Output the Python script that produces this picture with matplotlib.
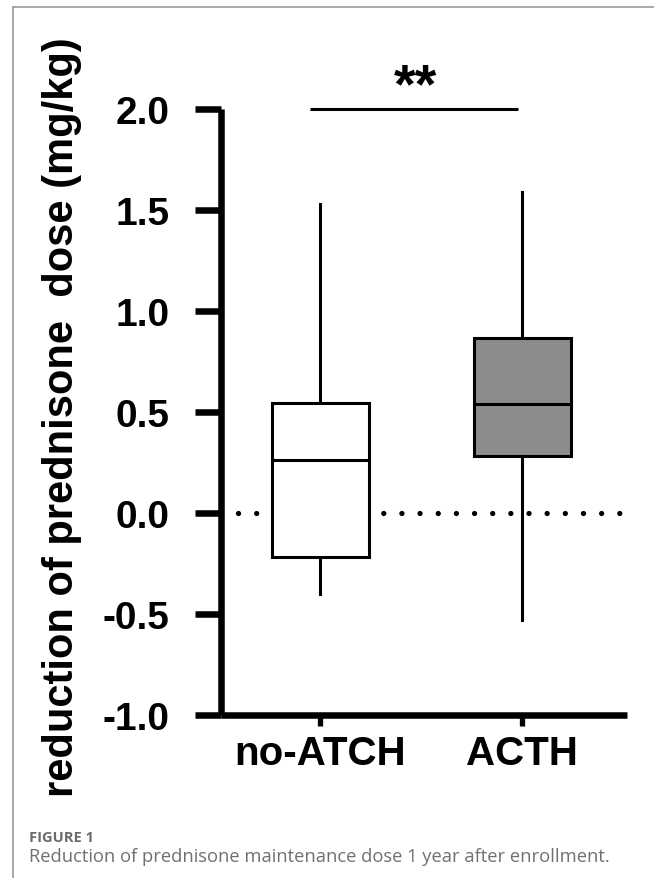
import matplotlib
matplotlib.use("Agg")
from matplotlib import pyplot as plt
from matplotlib.lines import Line2D

# box summary values (mg/kg)
groups = ["no-ATCH", "ACTH"]
whislo = [-0.40, -0.53]
q1 = [-0.22, 0.28]
med = [0.26, 0.54]
q3 = [0.545, 0.865]
whishi = [1.53, 1.59]
fills = ["white", "#8c8c8c"]

yticks = [-1.0, -0.5, 0.0, 0.5, 1.0, 1.5, 2.0]
ytick_labels = ["-1.0", "-0.5", "0.0", "0.5", "1.0", "1.5", "2.0"]
sig_label = "**"

plt.rcParams["font.family"] = ["Liberation Sans", "DejaVu Sans"]
plt.rcParams["font.weight"] = "bold"

fig = plt.figure(figsize=(6.54, 8.79), dpi=100)
ax = fig.add_axes([0.338, 0.1854, 0.621, 0.6895])

stats = []
for i, g in enumerate(groups):
    stats.append(dict(label=g, whislo=whislo[i], q1=q1[i], med=med[i],
                      q3=q3[i], whishi=whishi[i], fliers=[]))

lw_box = 2.2
bp = ax.bxp(stats, positions=range(len(groups)), widths=0.48, patch_artist=True,
            showcaps=False, showfliers=False,
            boxprops=dict(linewidth=lw_box, edgecolor="black"),
            whiskerprops=dict(linewidth=lw_box, color="black"),
            medianprops=dict(linewidth=lw_box, color="black"))
for patch, c in zip(bp["boxes"], fills):
    patch.set_facecolor(c)
    patch.set_zorder(3)
for ln in bp["medians"]:
    ln.set_zorder(4)

# dotted zero reference line (behind the boxes)
ax.hlines(0, -0.407, 1.49, colors="black", linewidth=3.8,
          linestyles=[(0, (0.01, 3.43))], capstyle="round", zorder=1)

# significance bar
ax.hlines(2.0, -0.05, 0.98, colors="black", linewidth=2.2, clip_on=False)
ax.text(0.47, 2.04, sig_label, ha="center", va="baseline", fontsize=40,
        fontweight="bold")

ax.set_xlim(-0.49, 1.52)
ax.set_ylim(-1.0, 2.0)
ax.set_yticks(yticks)
ax.set_yticklabels(ytick_labels)
ax.set_xticks(range(len(groups)))
ax.set_xticklabels(groups)

for s in ["top", "right"]:
    ax.spines[s].set_visible(False)
for s in ["left", "bottom"]:
    ax.spines[s].set_linewidth(4.7)
    ax.spines[s].set_capstyle("butt")

ax.tick_params(axis="y", length=19, width=4.7, pad=18, labelsize=28)
ax.tick_params(axis="x", length=8, width=3.8, pad=6, labelsize=29)

fig.text(0.095, 0.526, "reduction of prednisone  dose (mg/kg)", rotation=90,
         ha="center", va="center", fontsize=30, fontweight="bold")

# caption and frame lines
fig.text(0.045, 0.0466, "FIGURE 1", ha="left", va="center", fontsize=10.5,
         fontweight="bold", color="#6b6b6b", family=["Open Sans", "DejaVu Sans"])
fig.text(0.045, 0.025, "Reduction of prednisone maintenance dose 1 year after enrollment.",
         ha="left", va="center", fontsize=13.2, fontweight="normal", color="#707070",
         family=["Open Sans", "DejaVu Sans"])
fig.add_artist(Line2D([0.02, 1.0], [0.991, 0.991], color="#9a9a9a", linewidth=1.2))
fig.add_artist(Line2D([0.02, 0.02], [0.0, 0.991], color="#9a9a9a", linewidth=1.2))

fig.savefig("out.png", dpi=100)
